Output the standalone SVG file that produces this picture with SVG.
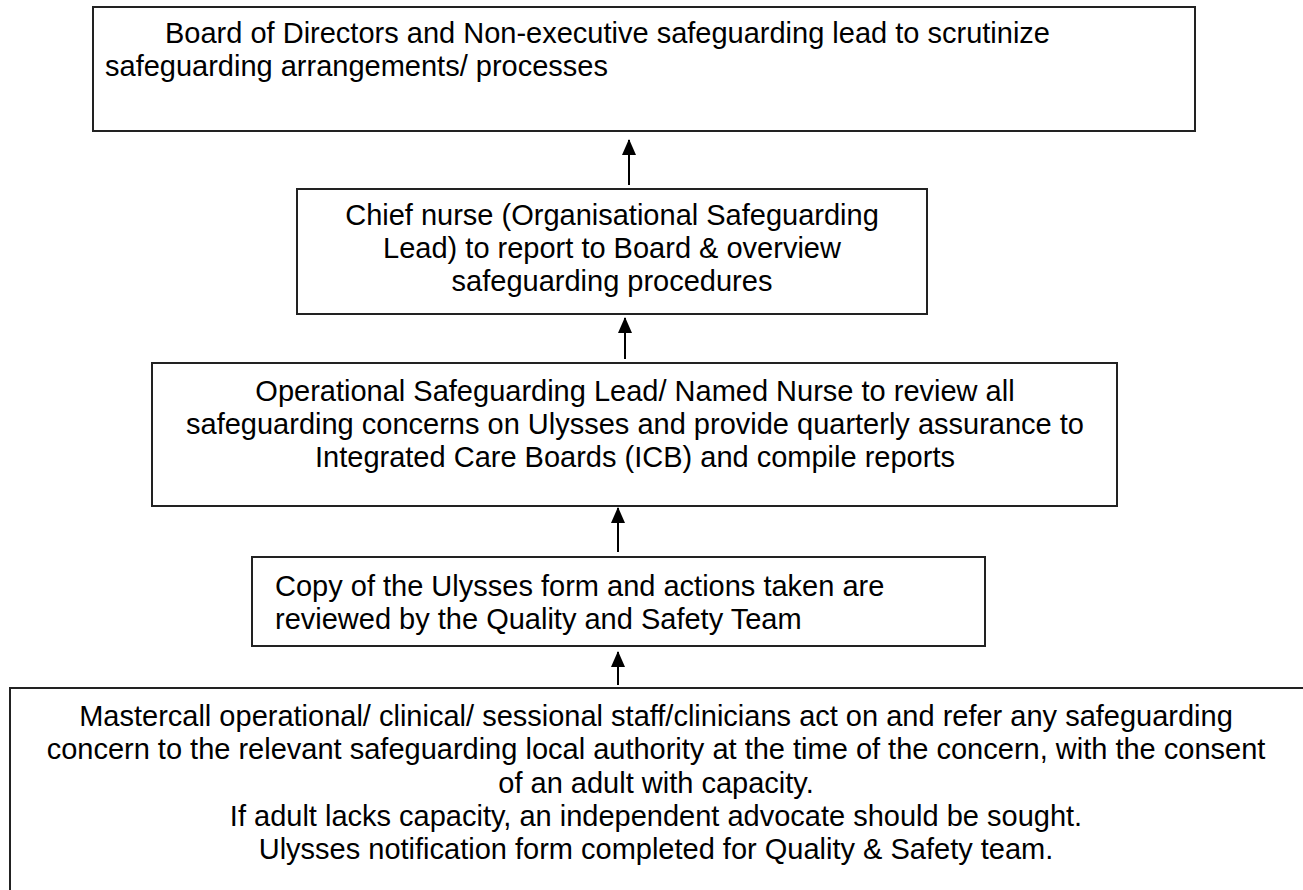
<svg xmlns="http://www.w3.org/2000/svg" width="1303" height="890" viewBox="0 0 1303 890">
<defs>
<style>
.box{fill:#fff;stroke:#222;stroke-width:2}
.t{font-family:"Liberation Sans",Arial,sans-serif;font-size:29px;fill:#000}
.c{text-anchor:middle}
.conn{stroke:#000;stroke-width:2;fill:none;marker-end:url(#ah)}
</style>
<marker id="ah" viewBox="0 0 16 14" refX="15" refY="7" markerWidth="16" markerHeight="14" markerUnits="userSpaceOnUse" orient="auto">
<path d="M0,0 L16,7 L0,14 Z" fill="#000"/>
</marker>
</defs>
<rect width="1303" height="890" fill="#fff"/>
<g id="board">
<rect class="box" x="93" y="7" width="1102" height="124"/>
<text class="t" x="165" y="43">Board of Directors and Non-executive safeguarding lead to scrutinize</text>
<text class="t" x="105" y="76">safeguarding arrangements/ processes</text>
</g>
<g id="chief-nurse">
<rect class="box" x="297" y="189" width="630" height="125"/>
<text class="t c" x="612" y="225">Chief nurse (Organisational Safeguarding</text>
<text class="t c" x="612" y="258">Lead) to report to Board &amp; overview</text>
<text class="t c" x="612" y="291">safeguarding procedures</text>
</g>
<g id="operational-lead">
<rect class="box" x="152" y="363" width="965" height="143"/>
<text class="t c" x="635" y="401">Operational Safeguarding Lead/ Named Nurse to review all</text>
<text class="t c" x="635" y="434">safeguarding concerns on Ulysses and provide quarterly assurance to</text>
<text class="t c" x="635" y="467">Integrated Care Boards (ICB) and compile reports</text>
</g>
<g id="quality-safety">
<rect class="box" x="252" y="557" width="733" height="89"/>
<text class="t" x="275" y="596">Copy of the Ulysses form and actions taken are</text>
<text class="t" x="275" y="629">reviewed by the Quality and Safety Team</text>
</g>
<g id="staff">
<rect class="box" x="10" y="688" width="1300" height="220"/>
<text class="t c" x="656" y="726">Mastercall operational/ clinical/ sessional staff/clinicians act on and refer any safeguarding</text>
<text class="t c" x="656" y="759">concern to the relevant safeguarding local authority at the time of the concern, with the consent</text>
<text class="t c" x="656" y="793">of an adult with capacity.</text>
<text class="t c" x="656" y="826">If adult lacks capacity, an independent advocate should be sought.</text>
<text class="t c" x="656" y="859">Ulysses notification form completed for Quality &amp; Safety team.</text>
</g>
<g id="connectors">
<line class="conn" x1="629" y1="185" x2="629" y2="140"/>
<line class="conn" x1="625" y1="359" x2="625" y2="318"/>
<line class="conn" x1="618" y1="552" x2="618" y2="508"/>
<line class="conn" x1="618" y1="685" x2="618" y2="652"/>
</g>
</svg>
